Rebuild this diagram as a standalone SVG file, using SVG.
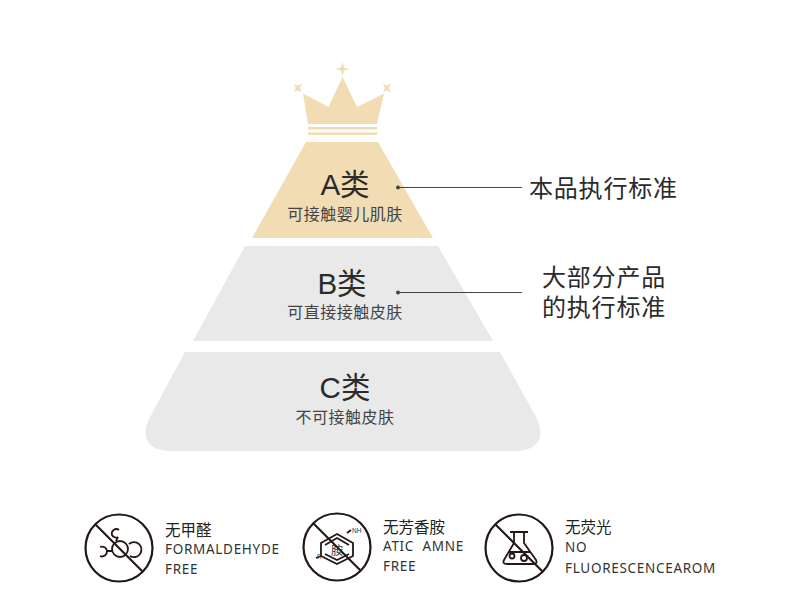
<svg xmlns="http://www.w3.org/2000/svg" width="790" height="616" viewBox="0 0 790 616">
<style>
text{font-family:"Liberation Sans","Noto Sans CJK SC",sans-serif;fill:#333}
.h{font-size:29.500px;text-anchor:middle;fill:#2b2b2b;-webkit-text-stroke:.3px #2b2b2b}
.s{font-size:16px;text-anchor:middle;fill:#444;letter-spacing:.5px}
.c{font-size:24px;fill:#2b2b2b;letter-spacing:.8px}
.t{font-size:15.500px;fill:#222}
.e{font-family:"Noto Sans","Liberation Sans",sans-serif;font-size:13.500px;fill:#333;letter-spacing:.7px}
.i{fill:none;stroke:#231815;stroke-width:2.2}
.g{fill:none;stroke:#231815;stroke-width:1.8}
.l{fill:none;stroke:#444;stroke-width:1}
</style>
<rect width="790" height="616" fill="#fff"/>
<g id="crown" fill="#f1dcb4">
<path d="M342.500 77 L357 107 L384 93.500 L377 124 L308 124 L303 93.500 L328.500 107Z"/>
<rect x="308" y="127" width="69" height="2.500"/>
<rect x="308" y="132.500" width="69" height="2.500"/>
<path d="M342.500 62 L344 67.500 L349.500 69 L344 70.500 L342.500 76 L341 70.500 L335.500 69 L341 67.500Z"/>
<path d="M294 84 L297.800 85.500 L302 84 L300 88 L302 92 L297.800 90.500 L294 92 L295.800 88Z"/>
<path d="M383 84 L386.800 85.500 L391 84 L389 88 L391 92 L386.800 90.500 L383 92 L384.800 88Z"/>
</g>
<g id="tier-a">
<path d="M306 142 H378 L433 238 H252Z" fill="#f1dcb4"/>
<text class="h" x="345" y="195">A类</text>
<text class="s" x="345" y="220">可接触婴儿肌肤</text>
</g>
<g id="tier-b">
<path d="M245 246 H438 L493 341 H193Z" fill="#e9e9e9"/>
<text class="h" x="342" y="294">B类</text>
<text class="s" x="345" y="318">可直接接触皮肤</text>
</g>
<g id="tier-c">
<path d="M185 352 H500 L536 417 C546 436 539 451 516 451 H170 C147 451 140 436 150 417Z" fill="#e9e9e9"/>
<text class="h" x="345" y="398">C类</text>
<text class="s" x="345" y="423">不可接触皮肤</text>
</g>
<g id="connectors">
<line class="l" x1="398" y1="187.500" x2="522" y2="187.500"/>
<circle cx="398" cy="187.500" r="2" fill="#444"/>
<line class="l" x1="398" y1="292.500" x2="522" y2="292.500"/>
<circle cx="398" cy="292.500" r="2" fill="#444"/>
</g>
<g id="label-a"><text class="c" x="529" y="197">本品执行标准</text></g>
<g id="label-b">
<text class="c" x="542" y="286">大部分产品</text>
<text class="c" x="542" y="316">的执行标准</text>
</g>
<g id="badge-formaldehyde">
<circle class="i" cx="119" cy="548" r="33.500"/>
<line class="i" x1="95" y1="524" x2="143" y2="572"/>
<circle class="g" cx="120" cy="549" r="8"/>
<path class="g" d="M116 541 L118 537 M119 530 A4.500 4.500 0 0 0 112 535 A4.500 4.500 0 0 0 118 537 M129 544 A7.500 7.500 0 1 1 130 556 M112 551 H107 M100 547 A5 5 0 0 1 107 551 A5 5 0 0 1 100 556"/>
<text class="t" x="165" y="536">无甲醛</text>
<text class="e" x="165" y="554">FORMALDEHYDE</text>
<text class="e" x="165" y="574">FREE</text>
</g>
<g id="badge-amine">
<circle class="i" cx="337" cy="547" r="33.500"/>
<line class="i" x1="313" y1="523" x2="361" y2="571"/>
<path class="g" stroke-width="1.500" d="M337 534 L353 543 V556 L337 564 L321 556 V543Z M325 545 L337 538 L349 545 M325 554 L337 560 L349 554"/>
<path class="g" stroke-width="1.300" d="M347 533 L351 530 M321 556 L316 558"/>
<text x="337" y="555" font-size="12" text-anchor="middle" fill="#333">胺</text>
<text x="352" y="533" font-size="6.500" fill="#333">NH</text>
<text x="317" y="559" font-size="6.500" fill="#333">R</text>
<text class="t" x="383" y="533">无芳香胺</text>
<text class="e" x="383" y="551" xml:space="preserve">ATIC  AMNE</text>
<text class="e" x="383" y="571">FREE</text>
</g>
<g id="badge-fluorescence">
<circle class="i" cx="519" cy="548" r="33.500"/>
<line class="i" x1="495" y1="524" x2="543" y2="572"/>
<path class="g" d="M510 532 H528 M514 532 V543 L504 560 Q502 564 507 564 H533 Q538 564 536 560 L524 543 V532 M509 552 H530"/>
<circle class="g" cx="512" cy="556" r="2.500"/>
<circle class="g" cx="524" cy="558" r="3"/>
<text class="t" x="565" y="533">无荧光</text>
<text class="e" x="565" y="552">NO</text>
<text class="e" x="565" y="573">FLUORESCENCEAROM</text>
</g>
</svg>
